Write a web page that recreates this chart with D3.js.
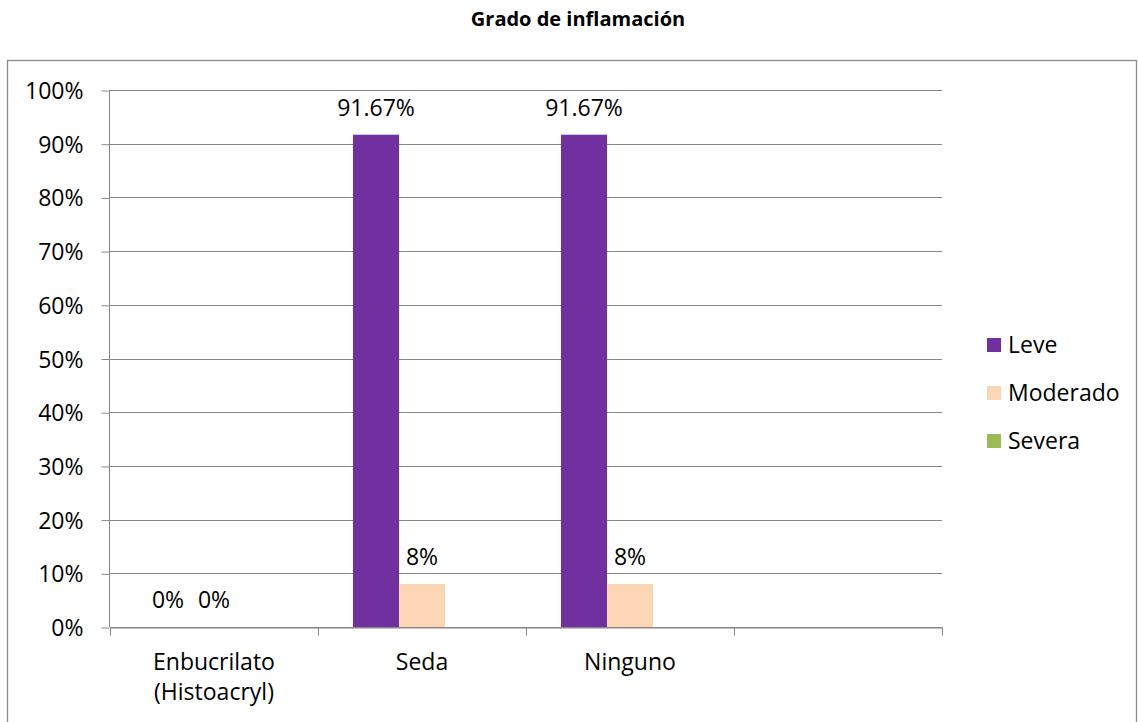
<!DOCTYPE html>
<html>
<head>
<meta charset="utf-8">
<script src="https://cdn.jsdelivr.net/npm/d3@7"></script>
<style>
  html, body { margin: 0; padding: 0; background: #fff; }
  svg { display: block; font-family: "Open Sans", "Noto Sans", sans-serif; }
</style>
</head>
<body>
<svg id="chart" width="1138" height="722"></svg>
<script>
// Chart data
const categories = ["Enbucrilato (Histoacryl)", "Seda", "Ninguno", ""];
const categoryLines = [["Enbucrilato", "(Histoacryl)"], ["Seda"], ["Ninguno"], []];
const seriesNames = ["Leve", "Moderado", "Severa"];
const seriesColors = ["#7030A0", "#FCD5B5", "#9BBB59"];
const leve = [0, 91.67, 91.67, null];
const moderado = [0, 8, 8, null];
const severa = [null, null, null, null];
const dataLabels = [["0%", "91.67%", "91.67%", null], ["0%", "8%", "8%", null], [null, null, null, null]];
const yTicks = [0, 10, 20, 30, 40, 50, 60, 70, 80, 90, 100];

const seriesValues = [leve, moderado, severa];

const svg = d3.select("#chart");
const plot = { left: 110, right: 942, top: 90, bottom: 627 };

// Outer chart frame
svg.append("rect")
  .attr("x", 7.5).attr("y", 60.5)
  .attr("width", 1129).attr("height", 720)
  .attr("fill", "none").attr("stroke", "#8c8c8c").attr("stroke-width", 1.3);

// Title
svg.append("text")
  .attr("x", 578).attr("y", 26)
  .attr("text-anchor", "middle")
  .attr("font-size", 20).attr("font-weight", "bold")
  .attr("fill", "#000")
  .text("Grado de inflamación");

const x0 = d3.scaleBand().domain(d3.range(categories.length))
  .range([plot.left, plot.right]).paddingInner(0).paddingOuter(0);
const x1 = d3.scaleBand().domain(seriesNames)
  .range([0, x0.bandwidth()]).paddingInner(0).paddingOuter(0.76);
const y = d3.scaleLinear().domain([0, 100]).range([plot.bottom, plot.top]);

const gridColor = "#878787";

// Horizontal gridlines
svg.append("g").selectAll("line").data(yTicks).join("line")
  .attr("x1", plot.left).attr("x2", plot.right)
  .attr("y1", d => Math.round(y(d)) + 0.5).attr("y2", d => Math.round(y(d)) + 0.5)
  .attr("stroke", gridColor).attr("stroke-width", 1);

// Bars
seriesNames.forEach((s, si) => {
  svg.append("g").selectAll("rect")
    .data(seriesValues[si].map((v, i) => ({ v, i })).filter(d => d.v !== null && d.v > 0))
    .join("rect")
    .attr("x", d => x0(d.i) + x1(s))
    .attr("width", x1.bandwidth())
    .attr("y", d => y(d.v))
    .attr("height", d => y(0) - y(d.v))
    .attr("fill", seriesColors[si]);
});

// Y axis
const yAxis = d3.axisLeft(y).tickValues(yTicks).tickSize(8).tickFormat(d => d + "%");
const gy = svg.append("g").attr("transform", `translate(${plot.left - 0.5},0.5)`).call(yAxis);
gy.select(".domain").attr("stroke", gridColor).attr("d", `M-0,${plot.top - 0.5}V${plot.bottom - 0.5}`);
gy.selectAll(".tick line").attr("stroke", gridColor);
gy.selectAll(".tick text")
  .attr("x", -26).attr("dy", "0.35em")
  .attr("font-size", 23).attr("font-family", "Open Sans, Noto Sans, sans-serif")
  .attr("fill", "#000");

// X axis line and category boundary ticks
const xAxis = d3.axisBottom(x0).tickSize(0).tickFormat("");
const gx = svg.append("g").attr("transform", `translate(0,${Math.round(y(0)) + 0.5})`).call(xAxis);
gx.select(".domain").attr("stroke", gridColor);
gx.selectAll(".tick").remove();
const bounds = d3.range(categories.length + 1).map(i => i < categories.length ? x0(i) : x0(i - 1) + x0.bandwidth());
gx.selectAll("line.bound").data(bounds).join("line")
  .attr("class", "bound")
  .attr("x1", d => Math.round(d) + 0.5).attr("x2", d => Math.round(d) + 0.5)
  .attr("y1", 0).attr("y2", 8)
  .attr("stroke", gridColor);

// Category labels
const catG = svg.append("g");
categoryLines.forEach((lines, i) => {
  const t = catG.append("text")
    .attr("x", x0(i) + x0.bandwidth() / 2)
    .attr("y", 670)
    .attr("text-anchor", "middle")
    .attr("font-size", 23).attr("fill", "#000");
  lines.forEach((ln, k) => {
    t.append("tspan").attr("x", x0(i) + x0.bandwidth() / 2).attr("dy", k === 0 ? 0 : 30).text(ln);
  });
});

// Data labels above bars
seriesNames.forEach((s, si) => {
  svg.append("g").selectAll("text")
    .data(seriesValues[si].map((v, i) => ({ v, i, lab: dataLabels[si][i] })).filter(d => d.lab))
    .join("text")
    .attr("x", d => x0(d.i) + x1(s) + x1.bandwidth() / 2)
    .attr("y", d => y(d.v) - 19)
    .attr("text-anchor", "middle")
    .attr("font-size", 23).attr("fill", "#000")
    .text(d => d.lab);
});

// Legend
const legend = svg.append("g").attr("transform", "translate(987,345)");
seriesNames.forEach((s, i) => {
  const g = legend.append("g").attr("transform", `translate(0,${i * 48})`);
  g.append("rect").attr("x", 0).attr("y", -7).attr("width", 14).attr("height", 14).attr("fill", seriesColors[i]);
  g.append("text").attr("x", 21).attr("y", 0).attr("dy", "0.35em")
    .attr("font-size", 23).attr("fill", "#000").text(s);
});
</script>
</body>
</html>
